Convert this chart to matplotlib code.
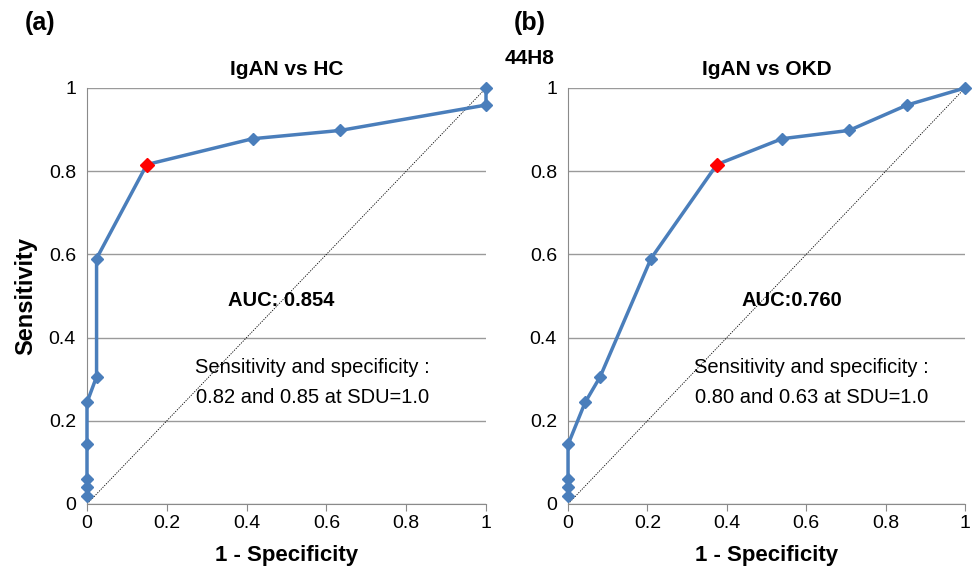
import matplotlib
matplotlib.use("Agg")
import matplotlib.pyplot as plt

plt.rcParams['font.family'] = ['Liberation Sans', 'DejaVu Sans']

# Panel (a): IgAN vs HC
fpr_a = [0, 0, 0, 0, 0, 0.024, 0.024, 0.15, 0.415, 0.635, 1.0, 1.0]
tpr_a = [0.02, 0.04, 0.06, 0.143, 0.244, 0.306, 0.59, 0.816, 0.878, 0.898, 0.959, 1.0]
opt_a = (0.15, 0.816)

# Panel (b): IgAN vs OKD
fpr_b = [0, 0, 0, 0, 0.043, 0.081, 0.209, 0.375, 0.539, 0.708, 0.854, 1.0]
tpr_b = [0.02, 0.04, 0.06, 0.143, 0.244, 0.306, 0.59, 0.816, 0.878, 0.898, 0.959, 1.0]
opt_b = (0.375, 0.816)

ticks = [0, 0.2, 0.4, 0.6, 0.8, 1]
tick_labels = ["0", "0.2", "0.4", "0.6", "0.8", "1"]

blue = '#4A7EBB'

fig = plt.figure(figsize=(9.72, 5.68), dpi=100)
ax1 = fig.add_axes([0.0895, 0.1127, 0.4105, 0.7324])
ax2 = fig.add_axes([0.5844, 0.1127, 0.4084, 0.7324])

def style(ax):
    ax.set_xlim(0, 1)
    ax.set_ylim(0, 1)
    ax.set_xticks(ticks)
    ax.set_xticklabels(tick_labels, fontsize=14)
    ax.set_yticks(ticks)
    ax.set_yticklabels(tick_labels, fontsize=14)
    ax.grid(axis='y', color='#9a9a9a', lw=1)
    ax.set_axisbelow(True)
    for s in ['top', 'right']:
        ax.spines[s].set_visible(False)
    for s in ['left', 'bottom']:
        ax.spines[s].set_color('#8a8a8a')
    ax.tick_params(axis='x', length=5, color='#8a8a8a', pad=3)
    ax.tick_params(axis='y', length=0, pad=8)
    ax.plot([0, 1], [0, 1], color='black', lw=0.6, ls=(0, (1.5, 1.5)), zorder=2)
    ax.set_xlabel('1 - Specificity', fontsize=16, fontweight='bold', labelpad=9)

style(ax1)
style(ax2)

ax1.plot(fpr_a, tpr_a, color=blue, lw=2.5, marker='D', ms=6, zorder=3, clip_on=False)
ax1.plot([opt_a[0]], [opt_a[1]], marker='D', color='red', ms=7, ls='none', zorder=4)
ax2.plot(fpr_b, tpr_b, color=blue, lw=2.5, marker='D', ms=6, zorder=3, clip_on=False)
ax2.plot([opt_b[0]], [opt_b[1]], marker='D', color='red', ms=7, ls='none', zorder=4)

ax1.set_ylabel('Sensitivity', fontsize=17, fontweight='bold', labelpad=8)

ax1.set_title('IgAN vs HC', fontsize=15, fontweight='bold', pad=9)
ax2.set_title('IgAN vs OKD', fontsize=15, fontweight='bold', pad=9)

ax1.text(0.486, 0.49, 'AUC: 0.854', fontsize=14.5, fontweight='bold', ha='center', va='center')
ax1.text(0.565, 0.327, 'Sensitivity and specificity :', fontsize=14.5, ha='center', va='center')
ax1.text(0.565, 0.255, '0.82 and 0.85 at SDU=1.0', fontsize=14.5, ha='center', va='center')

ax2.text(0.564, 0.49, 'AUC:0.760', fontsize=14.5, fontweight='bold', ha='center', va='center')
ax2.text(0.614, 0.327, 'Sensitivity and specificity :', fontsize=14.5, ha='center', va='center')
ax2.text(0.614, 0.255, '0.80 and 0.63 at SDU=1.0', fontsize=14.5, ha='center', va='center')

fig.text(40/972, 1 - 23/568, '(a)', fontsize=18, fontweight='bold', ha='center', va='center')
fig.text(530/972, 1 - 23/568, '(b)', fontsize=18, fontweight='bold', ha='center', va='center')
fig.text(530/972, 1 - 58/568, '44H8', fontsize=15, fontweight='bold', ha='center', va='center')

fig.savefig('out.png', dpi=100)
